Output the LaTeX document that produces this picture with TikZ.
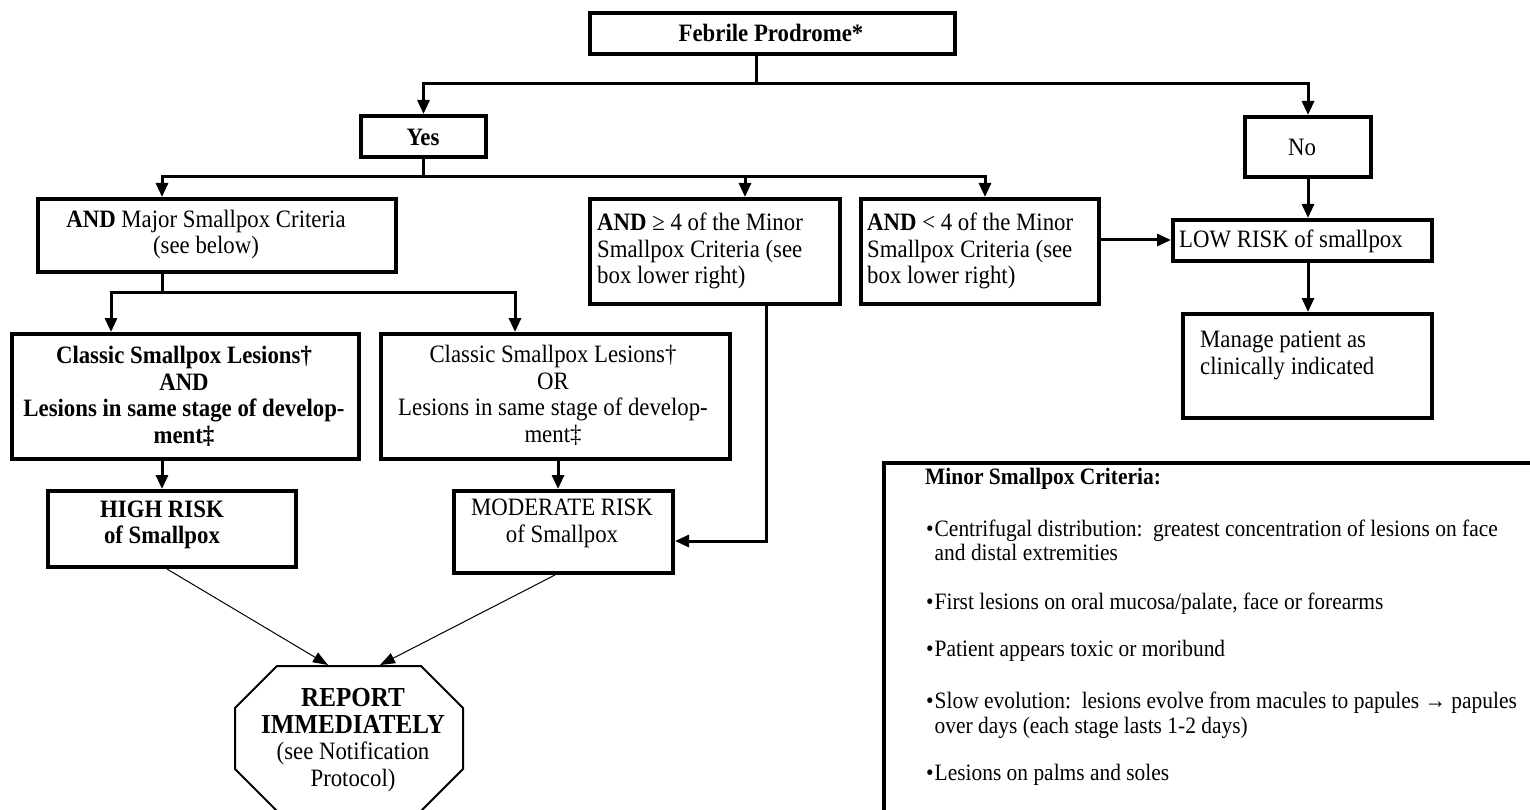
\documentclass[tikz,border=0pt]{standalone}
\usepackage{fontspec}
\setmainfont{Liberation Serif}[FakeStretch=0.912]
\usetikzlibrary{arrows.meta}
\tikzset{
  box/.style={draw, line width=4pt, inner sep=0pt},
  f/.style={font=\fontsize{25}{26.5}\selectfont},
  fb/.style={font=\fontsize{25}{26.5}\selectfont\bfseries},
  fm/.style={font=\fontsize{23.5}{24.5}\selectfont},
  txt/.style={inner sep=0pt, align=center, f},
  ltxt/.style={inner sep=0pt, anchor=west, align=left, f},
  item/.style={inner sep=0pt, anchor=west, fm},
  conn/.style={line width=3pt},
  arr/.style={line width=3pt, -{Triangle[length=14pt,width=12pt]}},
  thinarr/.style={line width=1pt, -{Triangle[length=15pt,width=11pt]}},
  octo/.style={draw, line width=2pt, line join=miter},
}
\newcommand{\bul}{•}
\begin{document}
\begin{tikzpicture}[x=1pt,y=-1pt]
\useasboundingbox (0,0) rectangle (1530,810);
\clip (0,0) rectangle (1530,810);

% boxes
\node[box, minimum width=365pt, minimum height=41pt] (feb) at (772.5,33.5) {};
\node[box, minimum width=125pt, minimum height=41pt] (yes) at (423.5,136.5) {};
\node[box, minimum width=126pt, minimum height=60pt] (no) at (1308,147) {};
\node[box, minimum width=358pt, minimum height=73pt] (maj) at (217,235.5) {};
\node[box, minimum width=250pt, minimum height=105pt] (ge4) at (715,251.5) {};
\node[box, minimum width=238pt, minimum height=105pt] (lt4) at (980,251.5) {};
\node[box, minimum width=259pt, minimum height=41pt] (low) at (1302.5,240.5) {};
\node[box, minimum width=249pt, minimum height=104pt] (man) at (1307.5,366) {};
\node[box, minimum width=347pt, minimum height=125pt] (clL) at (185.5,396.5) {};
\node[box, minimum width=349pt, minimum height=125pt] (clR) at (555.5,396.5) {};
\node[box, minimum width=248pt, minimum height=76pt] (high) at (172,529) {};
\node[box, minimum width=219pt, minimum height=82pt] (mod) at (563.5,532) {};
\node[box, anchor=north west, minimum width=700pt, minimum height=420pt] (minor) at (882,461) {};

% octagon
\draw[octo] (277,666) -- (421,666) -- (463,708) -- (463,769) -- (421,811)
  -- (277,811) -- (235,769) -- (235,708) -- cycle;
\coordinate (rL) at (328,665);
\coordinate (rR) at (380,665);

% texts
\node[txt, fb] (febt) at (771,33) {Febrile Prodrome*};
\node[txt, fb] (yest) at (423,137) {Yes};
\node[txt] (nott) at (1302,147) {No};
\node[txt] (majt) at (206,234.5) {\textbf{AND} Major Smallpox Criteria\\(see below)};
\node[ltxt] (ge4t) at (597,251) {\textbf{AND} ≥ 4 of the Minor\\Smallpox Criteria (see\\box lower right)};
\node[ltxt] (lt4t) at (867,251) {\textbf{AND} < 4 of the Minor\\Smallpox Criteria (see\\box lower right)};
\node[ltxt] (lowt) at (1179,241) {LOW RISK of smallpox};
\node[ltxt] (mant) at (1200,355.5) {Manage patient as\\clinically indicated};
\node[txt, fb] (clLt) at (184,396.5) {Classic Smallpox Lesions†\\AND\\Lesions in same stage of develop-\\ment‡};
\node[txt] (clRt) at (553,395.5) {Classic Smallpox Lesions†\\OR\\Lesions in same stage of develop-\\ment‡};
\node[txt, fb] (hight) at (162,525) {HIGH RISK\\of Smallpox};
\node[txt] (modt) at (562,523.5) {MODERATE RISK\\of Smallpox};
\node[txt] (rept) at (353,740) {\textbf{\fontsize{27.5}{28}\selectfont REPORT}\\\textbf{\fontsize{27.5}{28}\selectfont IMMEDIATELY}\\(see Notification\\Protocol)};

\node[inner sep=0pt, anchor=west, font=\fontsize{23.5}{24.5}\selectfont\bfseries] (mtitle) at (925,479) {Minor Smallpox Criteria:};
\node[item] (m1) at (926,543.5) {\begin{tabular}{@{}l@{\hspace{1pt}}l@{}}\bul & Centrifugal distribution:\ \ greatest concentration of lesions on face\\ & and distal extremities\end{tabular}};
\node[item] (m2) at (926,605) {\begin{tabular}{@{}l@{\hspace{1pt}}l@{}}\bul & First lesions on oral mucosa/palate, face or forearms\end{tabular}};
\node[item] (m3) at (926,652) {\begin{tabular}{@{}l@{\hspace{1pt}}l@{}}\bul & Patient appears toxic or moribund\end{tabular}};
\node[item] (m4) at (926,716) {\begin{tabular}{@{}l@{\hspace{1pt}}l@{}}\bul & Slow evolution:\ \ lesions evolve from macules to papules → papules\\ & over days (each stage lasts 1-2 days)\end{tabular}};
\node[item] (m5) at (926,776) {\begin{tabular}{@{}l@{\hspace{1pt}}l@{}}\bul & Lesions on palms and soles\end{tabular}};

% junction coordinates
\coordinate (j1) at (756,84);
\coordinate (j2) at (423,177);
\coordinate (a1) at (162,177);
\coordinate (a2) at (745,177);
\coordinate (a3) at (985,177);
\coordinate (j3) at (162,292);
\coordinate (b1) at (111,292);
\coordinate (b2) at (515,292);
\coordinate (c2) at (558,475);
\coordinate (d1) at (766,541);
\coordinate (e1) at (1136,240);
\coordinate (f1) at (167,567);
\coordinate (f2) at (555,573);

% connectors
\draw[conn] (feb.south -| j1) -- (j1);
\draw[arr] (j1) -| (yes.north);
\draw[arr] (j1) -| (no.north);
\draw[conn] (yes.south -| j2) -- (j2);
\draw[arr] (j2) -- (a1) -- (maj.north -| a1);
\draw[arr] (j2) -- (a2) -- (ge4.north -| a2);
\draw[arr] (a2) -- (a3) -- (lt4.north -| a3);
\draw[conn] (maj.south -| j3) -- (j3);
\draw[arr] (j3) -- (b1) -- (clL.north -| b1);
\draw[arr] (j3) -- (b2) -- (clR.north -| b2);
\draw[arr] (clL.south -| a1) -- (high.north -| a1);
\draw[arr] (clR.south -| c2) -- (mod.north -| c2);
\draw[arr] (ge4.south -| d1) -- (d1) -- (mod.east |- d1);
\draw[arr] (lt4.east |- e1) -- (low.west |- e1);
\draw[arr] (no.south) -- (low.north -| no.south);
\draw[arr] (low.south -| no.south) -- (man.north -| no.south);
\draw[thinarr] (high.south -| f1) -- (rL);
\draw[thinarr] (mod.south -| f2) -- (rR);
\end{tikzpicture}
\end{document}
